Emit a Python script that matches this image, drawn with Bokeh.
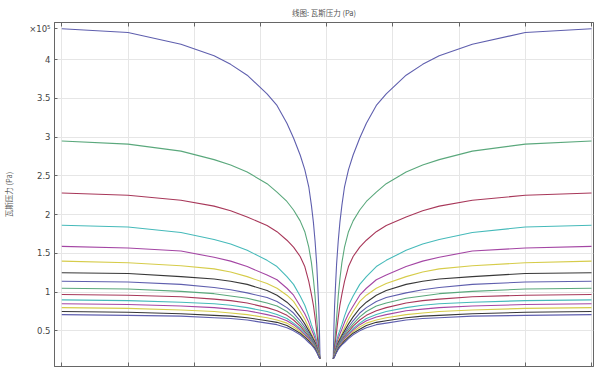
from bokeh.plotting import figure
from bokeh.models import Range1d, FixedTicker, LinearAxis, Title
from bokeh.embed import file_html
from bokeh.resources import INLINE

# radial distance from the well centre (the profile is symmetric about x = 0)
radius = [1.0, 1.1, 1.2, 1.35, 1.5, 1.75, 2.0, 2.3, 2.7, 3.3, 4.0, 5.0, 6.0, 7.5, 9.0,
          12.0, 14.5, 17.0, 22.0, 30.0, 40.0]

# gas pressure (x 10^5 Pa) for each time step, listed at the radii above
p01 = [0.14, 0.55, 0.82, 1.10, 1.36, 1.66, 1.90, 2.12, 2.36, 2.58, 2.77, 2.99, 3.18, 3.41, 3.56, 3.80, 3.94, 4.05, 4.20, 4.35, 4.40]
p02 = [0.14, 0.22, 0.33, 0.50, 0.66, 0.95, 1.17, 1.38, 1.58, 1.78, 1.92, 2.06, 2.17, 2.29, 2.40, 2.55, 2.64, 2.71, 2.82, 2.91, 2.95]
p03 = [0.14, 0.20, 0.27, 0.38, 0.49, 0.67, 0.83, 0.97, 1.14, 1.33, 1.46, 1.58, 1.67, 1.78, 1.86, 1.97, 2.05, 2.11, 2.185, 2.25, 2.28]
p04 = [0.14, 0.18, 0.23, 0.30, 0.37, 0.45, 0.51, 0.58, 0.69, 0.83, 0.95, 1.10, 1.20, 1.33, 1.41, 1.54, 1.62, 1.68, 1.77, 1.84, 1.864]
p05 = [0.14, 0.18, 0.22, 0.28, 0.33, 0.40, 0.46, 0.52, 0.61, 0.72, 0.82, 0.96, 1.05, 1.16, 1.22, 1.33, 1.40, 1.45, 1.53, 1.57, 1.59]
p06 = [0.14, 0.17, 0.21, 0.26, 0.30, 0.36, 0.41, 0.46, 0.54, 0.65, 0.75, 0.88, 0.96, 1.05, 1.11, 1.20, 1.26, 1.30, 1.34, 1.38, 1.40]
p07 = [0.14, 0.17, 0.20, 0.25, 0.29, 0.35, 0.39, 0.44, 0.50, 0.59, 0.68, 0.79, 0.87, 0.96, 1.02, 1.10, 1.14, 1.17, 1.20, 1.24, 1.25]
p08 = [0.14, 0.17, 0.19, 0.24, 0.28, 0.33, 0.37, 0.42, 0.47, 0.55, 0.63, 0.73, 0.80, 0.88, 0.93, 0.99, 1.03, 1.06, 1.10, 1.13, 1.14]
p09 = [0.14, 0.16, 0.19, 0.23, 0.27, 0.32, 0.35, 0.40, 0.45, 0.52, 0.59, 0.68, 0.75, 0.82, 0.86, 0.92, 0.95, 0.98, 1.01, 1.04, 1.05]
p10 = [0.14, 0.16, 0.18, 0.22, 0.26, 0.30, 0.34, 0.38, 0.43, 0.49, 0.56, 0.64, 0.70, 0.76, 0.80, 0.86, 0.89, 0.91, 0.94, 0.96, 0.97]
p11 = [0.14, 0.16, 0.18, 0.22, 0.25, 0.29, 0.33, 0.37, 0.41, 0.47, 0.53, 0.60, 0.66, 0.71, 0.75, 0.80, 0.83, 0.85, 0.87, 0.89, 0.90]
p12 = [0.14, 0.16, 0.18, 0.21, 0.24, 0.28, 0.32, 0.35, 0.40, 0.45, 0.51, 0.58, 0.63, 0.68, 0.71, 0.76, 0.78, 0.80, 0.82, 0.84, 0.85]
p13 = [0.14, 0.16, 0.18, 0.21, 0.24, 0.27, 0.31, 0.34, 0.38, 0.43, 0.49, 0.55, 0.60, 0.64, 0.67, 0.71, 0.73, 0.75, 0.77, 0.79, 0.80]
p14 = [0.14, 0.16, 0.17, 0.20, 0.23, 0.27, 0.30, 0.33, 0.37, 0.42, 0.47, 0.52, 0.57, 0.61, 0.63, 0.67, 0.69, 0.70, 0.72, 0.74, 0.75]
p15 = [0.14, 0.15, 0.17, 0.20, 0.22, 0.26, 0.29, 0.32, 0.35, 0.40, 0.45, 0.50, 0.54, 0.58, 0.60, 0.64, 0.66, 0.67, 0.69, 0.70, 0.71]
series = [p01, p02, p03, p04, p05, p06, p07, p08, p09, p10, p11, p12, p13, p14, p15]

x_ticks = [-40, -30, -20, -10, 0, 10, 20, 30, 40]
y_ticks = [0.5, 1, 1.5, 2, 2.5, 3, 3.5, 4]
y_tick_labels = {0.5: "0.5", 1: "1", 1.5: "1.5", 2: "2", 2.5: "2.5", 3: "3", 3.5: "3.5", 4: "4"}

title_text = "线图: 瓦斯压力 (Pa)"
y_label = "瓦斯压力 (Pa)"
scale_text = "×10⁵"
scale_text_level = 4.40   # where the exponent note sits beside the axis

cycle = ["#5f5fae", "#5aa87c", "#a8385a", "#46baba", "#a446a4", "#d6cc4a", "#383838"]
axis_color = "#666666"

p = figure(width=600, height=369, output_backend="svg", toolbar_location=None,
           x_range=Range1d(-41.1, 40.3), y_range=Range1d(0.04, 4.48),
           min_border_left=43, min_border_right=7, min_border_top=20, min_border_bottom=3)

p.title = Title(text=title_text, align="center", text_font_size="7.5px",
                text_font="Noto Sans CJK SC", text_font_style="normal",
                text_color="#555555", standoff=9)

for i, vals in enumerate(series):
    left_x = [-r for r in radius]
    right_x = list(radius)
    p.multi_line(xs=[left_x, right_x], ys=[list(vals), list(vals)],
                 line_color=cycle[i % len(cycle)], line_width=1.1)

p.xgrid.ticker = FixedTicker(ticks=x_ticks)
p.ygrid.ticker = FixedTicker(ticks=y_ticks)
p.grid.grid_line_color = "#e6e6e6"
p.grid.grid_line_width = 1

for ax in p.xaxis:
    ax.ticker = FixedTicker(ticks=x_ticks)
    ax.major_label_text_color = None
    ax.major_label_standoff = 0
    ax.major_tick_in = 4
    ax.major_tick_out = 0
    ax.minor_tick_line_color = None
    ax.axis_line_color = axis_color
    ax.major_tick_line_color = axis_color

labels = dict(y_tick_labels)
labels[scale_text_level] = scale_text
for ax in p.yaxis:
    ax.ticker = FixedTicker(ticks=y_ticks + [scale_text_level])
    ax.major_label_overrides = labels
    ax.major_label_text_font_size = "8.5px"
    ax.major_label_text_font = "DejaVu Sans"
    ax.major_label_text_color = "#444444"
    ax.major_label_standoff = 4
    ax.major_tick_in = 3
    ax.major_tick_out = 0
    ax.minor_tick_line_color = None
    ax.axis_line_color = axis_color
    ax.major_tick_line_color = axis_color
    ax.axis_label = y_label
    ax.axis_label_text_font = "Noto Sans CJK SC"
    ax.axis_label_text_font_size = "7.5px"
    ax.axis_label_text_font_style = "normal"
    ax.axis_label_text_color = "#555555"
    ax.axis_label_standoff = 12

top_axis = LinearAxis(ticker=FixedTicker(ticks=x_ticks), major_label_text_color=None,
                      major_label_standoff=0, major_tick_in=4, major_tick_out=0,
                      minor_tick_line_color=None, axis_line_color=axis_color,
                      major_tick_line_color=axis_color)
p.add_layout(top_axis, "above")

p.outline_line_color = axis_color
p.background_fill_color = "white"
p.border_fill_color = "white"

open("out.html", "w").write(file_html(p, INLINE))
